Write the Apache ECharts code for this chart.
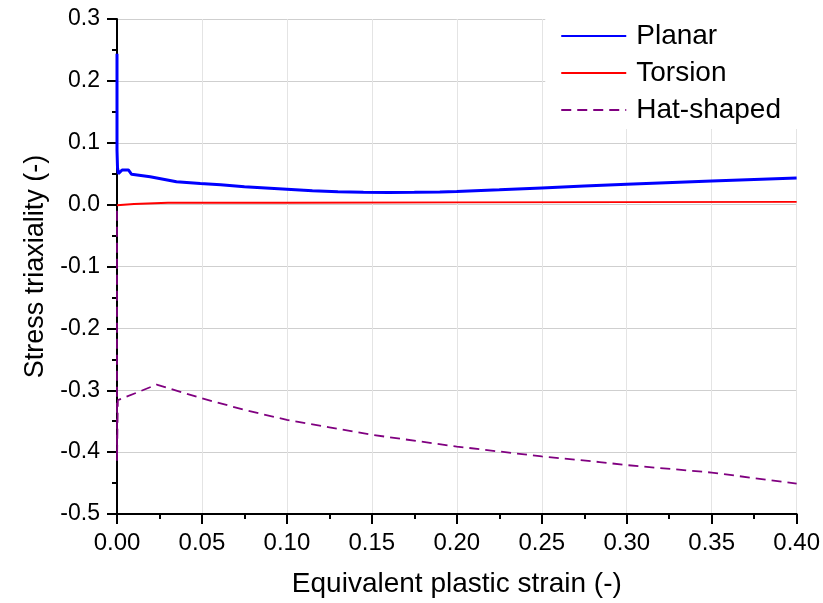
<!DOCTYPE html>
<html><head><meta charset="utf-8">
<script src="https://cdn.jsdelivr.net/npm/echarts@6/dist/echarts.min.js"></script>
<style>html,body{margin:0;padding:0;background:#fff}#c{width:823px;height:603px}</style>
</head><body><div id="c"></div>
<script>
const planarX = [0, 0, 0.0003, 0.0008, 0.003, 0.0067, 0.0086, 0.0195, 0.035, 0.049, 0.061, 0.075, 0.10, 0.115, 0.13, 0.145, 0.16, 0.175, 0.19, 0.20, 0.225, 0.25, 0.275, 0.30, 0.35, 0.40];
const planarY = [0.244, 0.088, 0.06, 0.05, 0.056, 0.056, 0.049, 0.045, 0.037, 0.034, 0.032, 0.029, 0.025, 0.0225, 0.021, 0.0198, 0.0195, 0.0198, 0.0205, 0.0212, 0.024, 0.027, 0.030, 0.033, 0.038, 0.043];
const torsionX = [0, 0.01, 0.03, 0.05, 0.10, 0.20, 0.30, 0.40];
const torsionY = [-0.001, 0.001, 0.003, 0.003, 0.003, 0.0035, 0.004, 0.0045];
const hatX = [0, 0, 0.0005, 0.0233, 0.05, 0.074, 0.10, 0.125, 0.15, 0.20, 0.25, 0.284, 0.30, 0.35, 0.40];
const hatY = [-0.01, -0.414, -0.316, -0.291, -0.313, -0.331, -0.348, -0.360, -0.372, -0.391, -0.407, -0.416, -0.421, -0.433, -0.451];
const xTicks = {min: 0, max: 0.40, step: 0.05};
const yTicks = {min: -0.5, max: 0.3, step: 0.1};

const zip = (xs, ys) => xs.map((x, i) => [x, ys[i]]);
const font = 'Liberation Sans, Arial, sans-serif';
const chart = echarts.init(document.getElementById('c'), null, {renderer: 'canvas'});
chart.setOption({
  animation: false,
  backgroundColor: '#fff',
  grid: {left: 117, right: 25, top: 19, bottom: 88, containLabel: false},
  legend: {
    orient: 'vertical', right: 25, top: 18, padding: [2, 17, 3, 15],
    backgroundColor: '#fff', itemWidth: 65, itemHeight: 14, itemGap: 5,
    itemStyle: {opacity: 0},
    textStyle: {fontFamily: font, fontSize: 28, color: '#000', lineHeight: 32, padding: [0, 0, 0, 5]},
    data: ['Planar', 'Torsion', 'Hat-shaped']
  },
  xAxis: {
    type: 'value', min: xTicks.min, max: xTicks.max, interval: xTicks.step,
    name: 'Equivalent plastic strain (-)', nameLocation: 'middle', nameGap: 56,
    nameTextStyle: {fontFamily: font, fontSize: 28, color: '#000'},
    axisLine: {show: true, onZero: false, lineStyle: {color: '#000', width: 2}},
    axisTick: {show: true, length: 10, lineStyle: {color: '#000', width: 2}},
    minorTick: {show: true, splitNumber: 2, length: 5, lineStyle: {color: '#000', width: 2}},
    axisLabel: {fontFamily: font, fontSize: 24, color: '#000', margin: 17, formatter: v => v.toFixed(2)},
    splitLine: {show: true, lineStyle: {color: '#e4e4e4', width: 1}}
  },
  yAxis: {
    type: 'value', min: yTicks.min, max: yTicks.max, interval: yTicks.step,
    name: 'Stress triaxiality (-)', nameLocation: 'middle', nameGap: 68,
    nameTextStyle: {fontFamily: font, fontSize: 27, color: '#000'},
    axisLine: {show: true, onZero: false, lineStyle: {color: '#000', width: 2}},
    axisTick: {show: true, length: 10, lineStyle: {color: '#000', width: 2}},
    minorTick: {show: true, splitNumber: 2, length: 5, lineStyle: {color: '#000', width: 2}},
    axisLabel: {fontFamily: font, fontSize: 23, color: '#000', margin: 17, formatter: v => v.toFixed(1)},
    splitLine: {show: true, lineStyle: {color: '#cfcfcf', width: 1}}
  },
  series: [
    {name: 'Planar', type: 'line', data: zip(planarX, planarY), showSymbol: false, symbol: 'none',
     lineStyle: {color: '#0000ff', width: 3}, itemStyle: {color: '#0000ff'}, z: 4},
    {name: 'Torsion', type: 'line', data: zip(torsionX, torsionY), showSymbol: false, symbol: 'none',
     lineStyle: {color: '#ff0000', width: 1.8}, itemStyle: {color: '#ff0000'}, z: 3},
    {name: 'Hat-shaped', type: 'line', data: zip(hatX, hatY), showSymbol: false, symbol: 'none',
     lineStyle: {color: '#800080', width: 1.8, type: [10, 6]}, itemStyle: {color: '#800080'}, z: 3}
  ]
});
</script></body></html>
